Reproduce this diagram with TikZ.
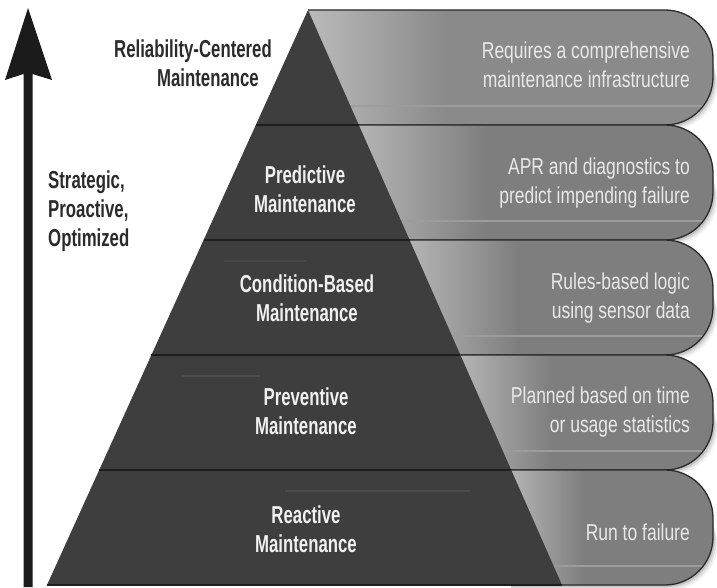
\documentclass[tikz,border=0pt]{standalone}
\usepackage{fontspec}
\setmainfont{Liberation Sans}
% narrow cuts of Liberation Sans for the labels
\newfontfamily\condbold[FakeStretch=0.685]{Liberation Sans}
\newfontfamily\condreg[FakeStretch=0.76]{Liberation Sans}
\usetikzlibrary{calc}

\definecolor{pyrfill}{HTML}{3E3E3E}
\definecolor{pyrline}{HTML}{1E1E1E}
\definecolor{pyrglow}{HTML}{4C4C4C}
\definecolor{tierhi}{HTML}{B4B4B4}
\definecolor{tiermid}{HTML}{7E7E7E}
\definecolor{tophi}{HTML}{BABABA}
\definecolor{topmid}{HTML}{8A8A8A}
\definecolor{tierstripe}{HTML}{9C9C9C}
\definecolor{tieredge}{HTML}{2A2A2A}
\definecolor{tiertxt}{HTML}{E8E8E8}
\definecolor{levtxt}{HTML}{F0F0F0}
\definecolor{sidetxt}{HTML}{2B2B2B}
\definecolor{axiscol}{HTML}{1B1B1B}

% light edge next to the pyramid, fading to the tier grey
\pgfdeclarehorizontalshading{tierlow}{100bp}{color(0bp)=(tierhi); color(25bp)=(tierhi); color(43bp)=(tiermid); color(100bp)=(tiermid)}
\pgfdeclarehorizontalshading{tiertop}{100bp}{color(0bp)=(tophi); color(25bp)=(tophi); color(42bp)=(topmid); color(100bp)=(topmid)}

\begin{document}
\begin{tikzpicture}[x=1pt,y=1pt,
  tierline/.style={draw=tieredge, line width=1.3pt},
  seamline/.style={draw=pyrline, line width=2pt},
  tiertext/.style={font=\condreg\fontsize{23}{29.5}\selectfont, text=tiertxt,
    align=right, anchor=east, inner sep=0pt},
  levellabel/.style={font=\condbold\bfseries\fontsize{24.5}{29}\selectfont, text=levtxt,
    align=center, inner sep=0pt},
  sidelabel/.style={font=\condbold\bfseries\fontsize{24.5}{29}\selectfont, text=sidetxt,
    inner sep=0pt}]

\useasboundingbox (0,0) rectangle (717,587);
\fill[white] (0,0) rectangle (717,587);

% rounded tiers on the right, top to bottom, each with a soft shadow
\foreach \yt/\yb/\xo/\sh in {577/462/308/tiertop, 462/347/358.8/tierlow,
    347/232/409.6/tierlow, 232/117/460.4/tierlow, 117/2/511.2/tierlow}{
  \foreach \d/\o in {5/0.05, 3.5/0.08, 2/0.12}{
    \fill[black, opacity=\o] (\xo,\yt-\d) -- (665,\yt-\d)
      arc[start angle=90, end angle=0, radius=48] -- (713+\d,\yb+48-\d)
      arc[start angle=0, end angle=-90, radius=48] -- (\xo,\yb-\d) -- cycle;
  }
  \shade[shading=\sh] (\xo,\yt) -- (665,\yt)
    arc[start angle=90, end angle=0, radius=48] -- (713,\yb+48)
    arc[start angle=0, end angle=-90, radius=48] -- (\xo,\yb) -- cycle;
  \begin{scope}
    \clip (\xo,\yt) -- (665,\yt)
      arc[start angle=90, end angle=0, radius=48] -- (713,\yb+48)
      arc[start angle=0, end angle=-90, radius=48] -- (\xo,\yb) -- cycle;
    \draw[tierstripe, line width=1.6pt] (\xo,\yb+19) -- (713,\yb+19);
  \end{scope}
  \draw[tierline] (\xo,\yt) -- (665,\yt)
    arc[start angle=90, end angle=0, radius=48] -- (713,\yb+48)
    arc[start angle=0, end angle=-90, radius=48] -- (\xo,\yb);
}

% the pyramid
\coordinate (apex) at (308,577);
\coordinate (baseL) at (47,2);
\coordinate (baseR) at (562,2);
\fill[pyrfill] (baseL) -- (baseR) -- (apex) -- cycle;
\begin{scope}
  \clip (baseL) -- (baseR) -- (apex) -- cycle;
  \foreach \t/\a/\b in {0.2/0.45/0.9, 0.4/0.1/0.35, 0.6/0.1/0.5}{
    \draw[pyrglow, line width=1.2pt]
      ($($(baseL)!\t!(apex)$)!\a!($(baseR)!\t!(apex)$) + (0,-21)$)
      -- ($($(baseL)!\t!(apex)$)!\b!($(baseR)!\t!(apex)$) + (0,-21)$);
  }
\end{scope}
\foreach \t in {0.2,0.4,0.6,0.8}{
  \draw[seamline] ($(baseL)!\t!(apex)$) -- ($(baseR)!\t!(apex)$);
}
\draw[seamline] (baseL) -- (baseR);

% levels of the pyramid
\node[sidelabel, align=center] (rcm) at (193,524) {Reliability-Centered\\\hspace*{30pt}Maintenance};
\node[levellabel] (pdm) at (305,398) {Predictive\\Maintenance};
\node[levellabel] (cbm) at (307,289) {Condition-Based\\Maintenance};
\node[levellabel] (pvm) at (306,176) {Preventive\\Maintenance};
\node[levellabel] (rtm) at (306,58) {Reactive\\Maintenance};

% descriptions on the tiers
\node[tiertext] (rcmnote) at (690,522) {Requires a comprehensive\\maintenance infrastructure};
\node[tiertext] (pdmnote) at (690,404) {APR and diagnostics to\\predict impending failure};
\node[tiertext] (cbmnote) at (690,289) {Rules-based logic\\using sensor data};
\node[tiertext] (pvmnote) at (690,175) {Planned based on time\\or usage statistics};
\node[tiertext] (rtmnote) at (690,55) {Run to failure};

% vertical axis
\coordinate (tip) at (28,579);
\coordinate (barbL) at (5,507);
\coordinate (barbR) at (52,507);
\fill[axiscol] (tip) -- (barbR) -- (32.5,513) -- (32.5,0) -- (23.5,0)
  -- (23.5,513) -- (barbL) -- cycle;
\node[sidelabel, align=left, anchor=west] (axislabel) at (48,376)
  {Strategic,\\Proactive,\\Optimized};

\end{tikzpicture}
\end{document}
